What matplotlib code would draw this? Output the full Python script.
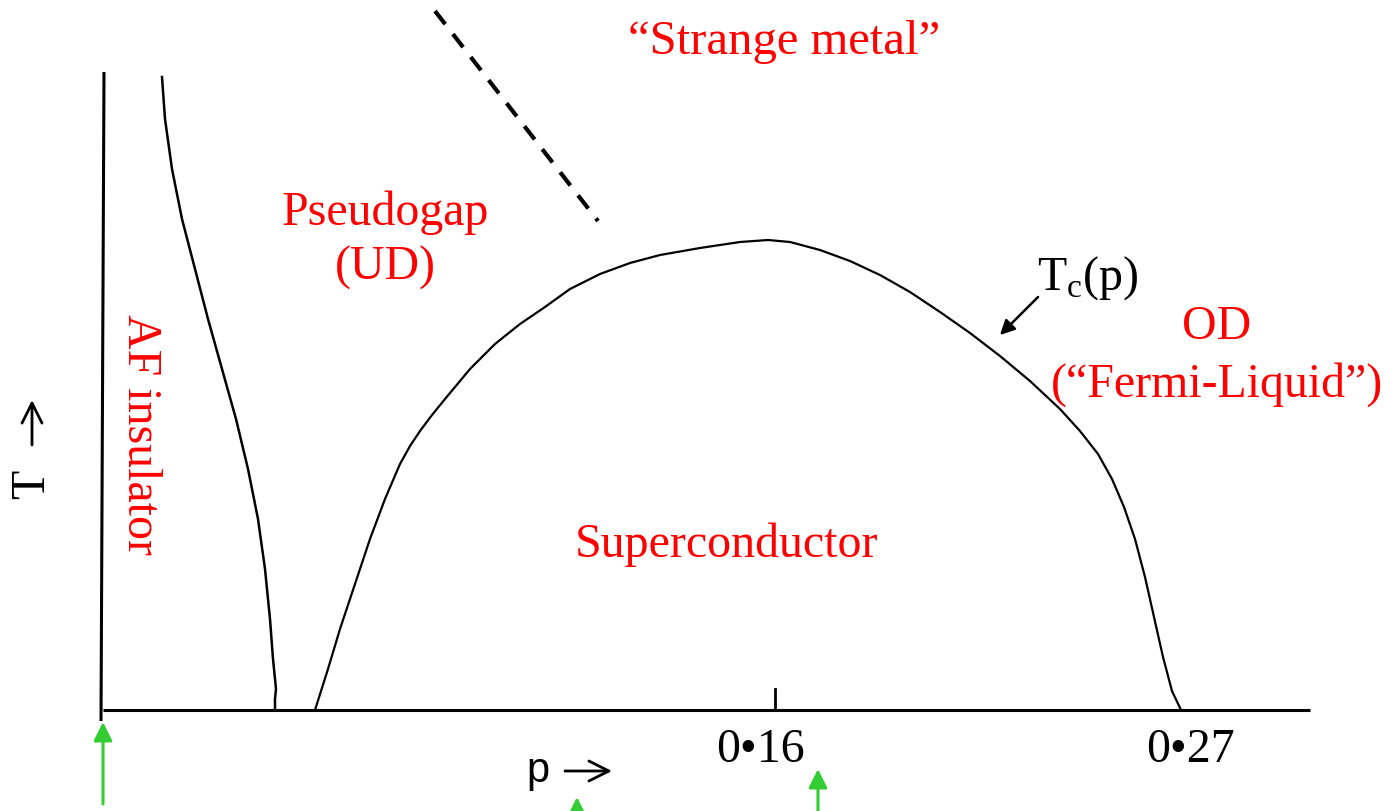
import matplotlib
matplotlib.use("Agg")
import matplotlib.pyplot as plt
from matplotlib.patches import FancyArrowPatch

# ---- data (drawing coordinates: x across, y down, in figure pixels) ----
y_axis_xs = [104, 101]
y_axis_ys = [73, 722]
x_axis_xs = [103, 1310]
x_axis_ys = [711, 711]

af_x = [162, 165, 172, 182, 195, 208, 222, 236, 248, 258, 265, 270, 273, 276, 275, 275]
af_y = [78, 120, 170, 220, 270, 320, 370, 420, 470, 520, 570, 620, 660, 690, 700, 711]

dome_x = [315, 328, 340, 355, 370, 385, 400, 410, 420, 432, 445, 470, 495, 520, 545, 570, 600, 630,
          660, 700, 740, 768, 790, 820, 850, 880, 910, 940, 970, 1000, 1030, 1060, 1080,
          1098, 1112, 1124, 1135, 1145, 1154, 1163, 1172, 1181]
dome_y = [711, 670, 630, 585, 540, 500, 465, 447, 432, 416, 400, 370, 345, 325, 308, 290, 275, 264,
          256, 249, 243, 241, 243, 251, 262, 276, 293, 313, 334, 357, 382, 410, 432,
          455, 480, 508, 540, 578, 618, 658, 692, 711]

pg_x = [435, 598]
pg_y = [12, 222]

tick_labels = ["0\u202216", "0\u202227"]
tick_x = [760, 1190]
tick_mark_x = 775

green_arrow_x = [103, 577, 818]
green_arrow_top = [723, 798, 770]
green_arrow_bottom = [805, 830, 830]

RED = "#ff0000"
GREEN = "#33cc33"

fig = plt.figure(figsize=(13.98, 8.12), dpi=100)
ax = fig.add_axes([0, 0, 1, 1])
ax.set_xlim(0, 1398)
ax.set_ylim(812, 0)
ax.axis("off")

# axes lines
ax.plot(y_axis_xs, y_axis_ys, color="black", lw=2.2, solid_capstyle="butt")
ax.plot(x_axis_xs, x_axis_ys, color="black", lw=2.2, solid_capstyle="butt")
ax.plot([tick_mark_x, tick_mark_x], [690, 711], color="black", lw=2.0)

# curves
ax.plot(af_x, af_y, color="black", lw=1.8)
ax.plot(dome_x, dome_y, color="black", lw=1.6, solid_joinstyle="round")
ax.plot(pg_x, pg_y, color="black", lw=3.0, dashes=(4.0, 3.0))

serif = "Liberation Serif"
fs = 34.5

ax.text(784, 42, "\u201cStrange metal\u201d", color=RED, fontsize=35, family=serif,
        ha="center", va="center")
ax.text(385, 213, "Pseudogap", color=RED, fontsize=fs, family=serif, ha="center", va="center")
ax.text(385, 268, "(UD)", color=RED, fontsize=fs, family=serif, ha="center", va="center")
ax.text(140, 435, "AF insulator", color=RED, fontsize=fs, family=serif, ha="center",
        va="center", rotation=-90)
ax.text(726, 545, "Superconductor", color=RED, fontsize=fs, family=serif, ha="center",
        va="center")
ax.text(1217, 327, "OD", color=RED, fontsize=fs, family=serif, ha="center", va="center")
ax.text(1217, 385, "(\u201cFermi-Liquid\u201d)", color=RED, fontsize=fs, family=serif,
        ha="center", va="center")

ax.text(1088, 278, r"T$_\mathregular{c}$(p)", color="black", fontsize=fs, family=serif,
        ha="center", va="center")
ax.annotate("", xy=(998, 338), xytext=(1040, 296),
            arrowprops=dict(arrowstyle="-|>", color="black", lw=1.8, mutation_scale=22))

for lab, x in zip(tick_labels, tick_x):
    ax.text(x, 750, lab, color="black", fontsize=fs, family=serif, ha="center", va="center")

# axis names with long thin arrows
ax.text(538, 771, "p", color="black", fontsize=30, family="Liberation Sans",
        ha="center", va="center")
ax.annotate("", xy=(612, 772), xytext=(565, 772),
            arrowprops=dict(arrowstyle="->", color="black", lw=2.0, mutation_scale=36,
                            shrinkA=0, shrinkB=0))
ax.text(32, 484, "T", color="black", fontsize=fs, family=serif, ha="center",
        va="center", rotation=90)
ax.annotate("", xy=(32, 401), xytext=(32, 446),
            arrowprops=dict(arrowstyle="->", color="black", lw=2.0, mutation_scale=36,
                            shrinkA=0, shrinkB=0))

for x, top, bot in zip(green_arrow_x, green_arrow_top, green_arrow_bottom):
    arr = FancyArrowPatch((x, bot), (x, top),
                          arrowstyle="-|>", mutation_scale=28, color=GREEN, lw=2.2,
                          shrinkA=0, shrinkB=0)
    ax.add_patch(arr)

fig.savefig("out.png", dpi=100)
